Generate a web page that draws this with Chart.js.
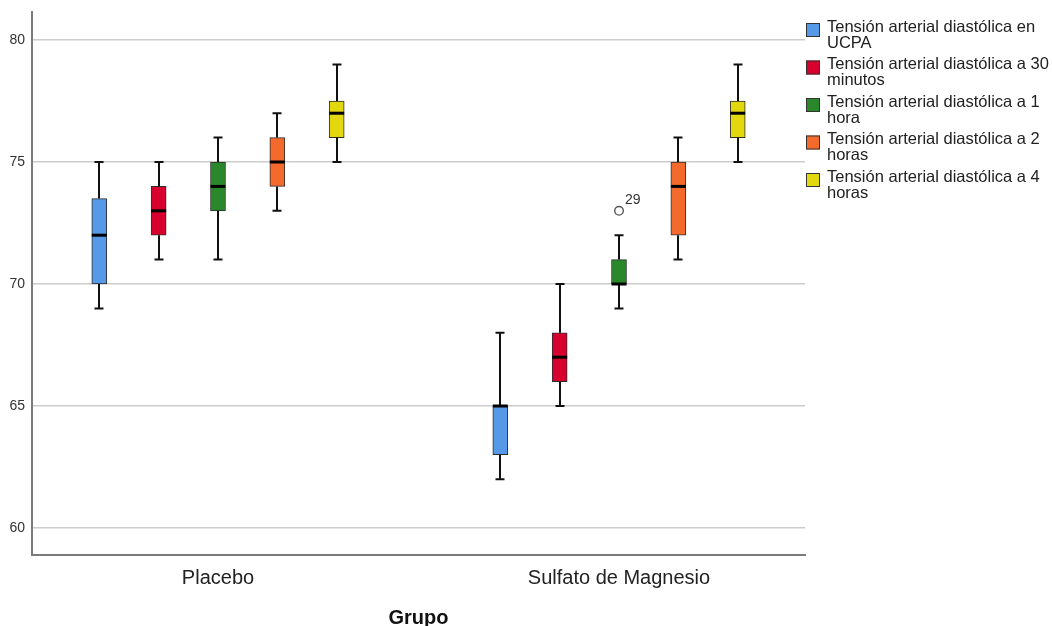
<!DOCTYPE html>
<html><head><meta charset="utf-8">
<script src="https://cdn.jsdelivr.net/npm/chart.js@4/dist/chart.umd.min.js"></script>
<style>html,body{margin:0;padding:0;background:#fff;} #wrap{width:1052px;height:626px;}</style>
</head><body><div id="wrap"><canvas id="c" width="1052" height="626"></canvas></div>
<script>
const groups = ['Placebo', 'Sulfato de Magnesio'];
const seriesLabels = [
  ['Tensión arterial diastólica en', 'UCPA'],
  ['Tensión arterial diastólica a 30', 'minutos'],
  ['Tensión arterial diastólica a 1', 'hora'],
  ['Tensión arterial diastólica a 2', 'horas'],
  ['Tensión arterial diastólica a 4', 'horas']
];
const seriesColors = ['#5699e6', '#d7002f', '#2a882a', '#f4692c', '#e3d70e'];
// per series: [Placebo, Sulfato de Magnesio]
const whiskerMin = [[69, 62], [71, 65], [71, 69], [73, 71], [75, 75]];
const q1Vals     = [[70, 63], [72, 66], [73, 70], [74, 72], [76, 76]];
const medianVals = [[72, 65], [73, 67], [74, 70], [75, 74], [77, 77]];
const q3Vals     = [[73.5, 65], [74, 68], [75, 71], [76, 75], [77.5, 77.5]];
const whiskerMax = [[75, 68], [75, 70], [76, 72], [77, 76], [79, 79]];
const outliers = [{ group: 1, series: 2, value: 73, label: '29' }];
const yTicks = [60, 65, 70, 75, 80];

const SPACING = 0.148;
const FONT = "'Liberation Sans', Arial, sans-serif";

const datasets = seriesLabels.map((lab, s) => ({
  label: lab.join(' '),
  data: groups.map((g, gi) => ({ x: gi + 1 + (s - 2) * SPACING, y: [q1Vals[s][gi], q3Vals[s][gi]] })),
  backgroundColor: seriesColors[s],
  borderColor: '#2e2e2e',
  borderWidth: 1,
  borderSkipped: false,
  barThickness: 15,
  grouped: false
}));

const boxPlugin = {
  id: 'boxWhiskers',
  afterDatasetsDraw(chart) {
    const ctx = chart.ctx, y = chart.scales.y;
    ctx.save();
    chart.data.datasets.forEach((ds, s) => {
      const meta = chart.getDatasetMeta(s);
      meta.data.forEach((bar, gi) => {
        const cx = Math.round(bar.x);
        const half = bar.width / 2;
        const pMin = y.getPixelForValue(whiskerMin[s][gi]);
        const pMax = y.getPixelForValue(whiskerMax[s][gi]);
        const pQ1 = y.getPixelForValue(q1Vals[s][gi]);
        const pQ3 = y.getPixelForValue(q3Vals[s][gi]);
        const pMed = y.getPixelForValue(medianVals[s][gi]);
        ctx.strokeStyle = '#111';
        ctx.lineWidth = 2;
        ctx.beginPath();
        ctx.moveTo(cx, pQ3); ctx.lineTo(cx, pMax);
        ctx.moveTo(cx, pQ1); ctx.lineTo(cx, pMin);
        ctx.moveTo(cx - 4.5, pMax); ctx.lineTo(cx + 4.5, pMax);
        ctx.moveTo(cx - 4.5, pMin); ctx.lineTo(cx + 4.5, pMin);
        ctx.stroke();
        ctx.strokeStyle = '#000';
        ctx.lineWidth = 3;
        ctx.beginPath();
        ctx.moveTo(bar.x - half, pMed); ctx.lineTo(bar.x + half, pMed);
        ctx.stroke();
      });
    });
    outliers.forEach(o => {
      const bar = chart.getDatasetMeta(o.series).data[o.group];
      const py = y.getPixelForValue(o.value);
      ctx.beginPath();
      ctx.arc(bar.x, py, 4.3, 0, Math.PI * 2);
      ctx.fillStyle = '#fff';
      ctx.fill();
      ctx.lineWidth = 1.4;
      ctx.strokeStyle = '#555';
      ctx.stroke();
      ctx.fillStyle = '#333';
      ctx.font = '14px ' + FONT;
      ctx.textBaseline = 'alphabetic';
      ctx.fillText(o.label, bar.x + 6, py - 7);
    });
    ctx.restore();
  }
};

const legendPlugin = {
  id: 'sideLegend',
  afterDraw(chart) {
    const ctx = chart.ctx;
    ctx.save();
    ctx.font = '16.5px ' + FONT;
    ctx.textBaseline = 'alphabetic';
    seriesLabels.forEach((lines, s) => {
      const top = 23 + s * 37.5;
      ctx.fillStyle = seriesColors[s];
      ctx.fillRect(806, top, 14, 14);
      ctx.strokeStyle = '#333';
      ctx.lineWidth = 1;
      ctx.strokeRect(806.5, top + 0.5, 13, 13);
      ctx.fillStyle = '#222';
      lines.forEach((t, li) => ctx.fillText(t, 827, top + 8.5 + li * 16));
    });
    ctx.restore();
  }
};

new Chart(document.getElementById('c'), {
  type: 'bar',
  data: { datasets },
  plugins: [boxPlugin, legendPlugin],
  options: {
    responsive: false,
    animation: false,
    devicePixelRatio: 1,
    layout: { padding: { top: 12, right: 247, left: 0, bottom: 0 } },
    plugins: { legend: { display: false }, tooltip: { enabled: false } },
    scales: {
      x: {
        type: 'linear', min: 0.5362, max: 2.4638, offset: false,
        afterBuildTicks: sc => { sc.ticks = groups.map((g, i) => ({ value: i + 1 })); },
        ticks: { callback: v => groups[v - 1] ?? '', font: { size: 20, family: FONT }, color: '#222', padding: 11, autoSkip: false, maxRotation: 0 },
        grid: { display: false, drawTicks: false, offset: false },
        border: { display: true, color: '#7a7a7a', width: 2 },
        title: { display: true, text: 'Grupo', font: { size: 20, weight: 'bold', family: FONT }, color: '#111', padding: { top: 4, bottom: -4 } },
        afterFit: sc => { sc.height = 71; sc.paddingLeft = 0; sc.paddingRight = 0; }
      },
      y: {
        min: 58.893, max: 81.148,
        afterBuildTicks: sc => { sc.ticks = yTicks.map(v => ({ value: v })); },
        ticks: { font: { size: 14, family: FONT, lineHeight: 1 }, color: '#333', padding: 7 },
        grid: { color: '#cccccc', lineWidth: 1.5, drawTicks: false },
        border: { display: true, color: '#7a7a7a', width: 2 },
        afterFit: sc => { sc.width = 32; sc.paddingTop = 0; sc.paddingBottom = 0; }
      }
    }
  }
});
</script>
</body></html>
